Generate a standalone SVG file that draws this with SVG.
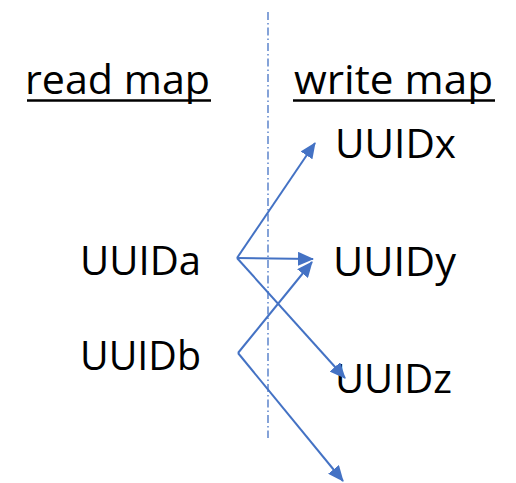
<svg xmlns="http://www.w3.org/2000/svg" width="516" height="483" viewBox="0 0 516 483">
<style>
.t{font-family:"Open Sans","Liberation Sans",sans-serif;font-size:40px;fill:#000}
.ul{stroke:#000;stroke-width:2.5}
.c{stroke:#4472C4;stroke-width:2;fill:none;marker-end:url(#ah)}
.div{stroke:#4472C4;stroke-width:1.3;stroke-dasharray:8 3 1.5 3;fill:none}
</style>
<defs>
<marker id="ah" markerUnits="userSpaceOnUse" markerWidth="16" markerHeight="14" refX="15" refY="7" orient="auto">
<path d="M0,0 L16,7 L0,14 z" fill="#4472C4"/>
</marker>
</defs>
<rect width="516" height="483" fill="#fff"/>
<line class="div" x1="268" y1="12" x2="268" y2="438"/>
<g id="read-map">
<text class="t" x="25" y="94" textLength="185" lengthAdjust="spacingAndGlyphs">read map</text>
<line class="ul" x1="27" y1="100.5" x2="211" y2="100.5"/>
</g>
<g id="write-map">
<text class="t" x="294" y="94" textLength="199" lengthAdjust="spacingAndGlyphs">write map</text>
<line class="ul" x1="293" y1="100.5" x2="495" y2="100.5"/>
</g>
<g id="UUIDx"><text class="t" x="335" y="158" textLength="121" lengthAdjust="spacingAndGlyphs">UUIDx</text></g>
<g id="UUIDa"><text class="t" x="80" y="275" textLength="121" lengthAdjust="spacingAndGlyphs">UUIDa</text></g>
<g id="UUIDy"><text class="t" x="333" y="276" textLength="123" lengthAdjust="spacingAndGlyphs">UUIDy</text></g>
<g id="UUIDb"><text class="t" x="80" y="370" textLength="121" lengthAdjust="spacingAndGlyphs">UUIDb</text></g>
<g id="UUIDz"><text class="t" x="335" y="393" textLength="117" lengthAdjust="spacingAndGlyphs">UUIDz</text></g>
<g id="connectors">
<line class="c" x1="237" y1="258" x2="315" y2="143"/>
<line class="c" x1="237" y1="258" x2="313" y2="259"/>
<line class="c" x1="237" y1="258" x2="345" y2="378"/>
<line class="c" x1="238" y1="353" x2="312" y2="262"/>
<line class="c" x1="238" y1="353" x2="343" y2="481"/>
</g>
</svg>
